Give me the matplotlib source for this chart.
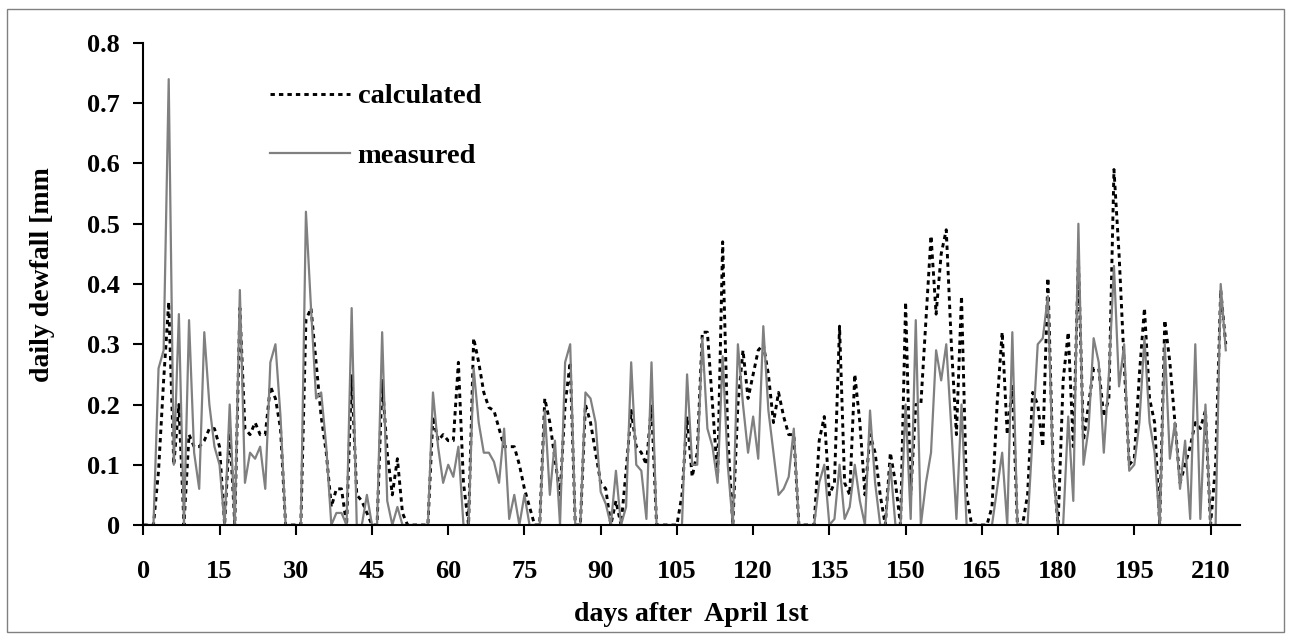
import numpy as np
import matplotlib
matplotlib.use('Agg')
from matplotlib import pyplot as plt
from matplotlib.patches import Rectangle

matplotlib.rcParams['font.family'] = 'Liberation Serif'
matplotlib.rcParams['font.weight'] = 'bold'

#%% Data
days = np.arange(0, 214)

calculated = [
    0, 0, 0, 0.09, 0.24, 0.37, 0.10, 0.20, 0, 0.15,
    0.13, 0.13, 0.14, 0.16, 0.16, 0.13, 0, 0.16, 0, 0.36,
    0.16, 0.15, 0.17, 0.15, 0.15, 0.23, 0.21, 0.16, 0, 0,
    0, 0, 0.34, 0.36, 0.27, 0.18, 0.12, 0.03, 0.06, 0.06,
    0, 0.25, 0.05, 0.04, 0.02, 0, 0, 0.24, 0.12, 0.05,
    0.11, 0.02, 0, 0, 0, 0, 0, 0.18, 0.14, 0.15,
    0.14, 0.14, 0.27, 0.07, 0, 0.31, 0.27, 0.22, 0.195, 0.19,
    0.16, 0.13, 0.13, 0.13, 0.10, 0.06, 0.03, 0, 0, 0.21,
    0.17, 0.11, 0.05, 0.20, 0.27, 0, 0, 0.20, 0.17, 0.12,
    0.07, 0.06, 0, 0.04, 0, 0.09, 0.19, 0.13, 0.12, 0.10,
    0.20, 0, 0, 0, 0, 0, 0.05, 0.18, 0.08, 0.12,
    0.32, 0.32, 0.20, 0.08, 0.47, 0.15, 0, 0.20, 0.29, 0.21,
    0.25, 0.29, 0.30, 0.25, 0.17, 0.22, 0.18, 0.15, 0.15, 0,
    0, 0, 0, 0.14, 0.18, 0.05, 0.07, 0.33, 0.07, 0.05,
    0.25, 0.17, 0.05, 0.15, 0.12, 0.05, 0, 0.12, 0.07, 0,
    0.37, 0.05, 0.20, 0.20, 0.34, 0.48, 0.35, 0.45, 0.49, 0.30,
    0.15, 0.38, 0.05, 0, 0, 0, 0, 0.03, 0.20, 0.32,
    0.15, 0.23, 0, 0, 0.05, 0.22, 0.20, 0.13, 0.41, 0.10,
    0, 0.24, 0.32, 0.13, 0.44, 0.14, 0.20, 0.26, 0.26, 0.18,
    0.21, 0.59, 0.45, 0.27, 0.10, 0.11, 0.25, 0.36, 0.21, 0.17,
    0, 0.34, 0.27, 0.17, 0.07, 0.10, 0.13, 0.17, 0.16, 0.19,
    0, 0.10, 0.39, 0.30]

measured = [
    0, 0, 0, 0.26, 0.29, 0.74, 0.10, 0.35, 0, 0.34,
    0.12, 0.06, 0.32, 0.20, 0.13, 0.10, 0, 0.20, 0, 0.39,
    0.07, 0.12, 0.11, 0.13, 0.06, 0.27, 0.30, 0.18, 0, 0,
    0, 0, 0.52, 0.36, 0.21, 0.22, 0.13, 0, 0.02, 0.02,
    0, 0.36, 0, 0, 0.05, 0, 0, 0.32, 0.04, 0,
    0.03, 0, 0, 0, 0, 0, 0, 0.22, 0.13, 0.07,
    0.10, 0.08, 0.13, 0, 0, 0.26, 0.17, 0.12, 0.12, 0.105,
    0.07, 0.16, 0.01, 0.05, 0, 0.05, 0, 0, 0, 0.19,
    0.05, 0.14, 0, 0.27, 0.30, 0, 0, 0.22, 0.21, 0.17,
    0.055, 0.035, 0, 0.09, 0, 0.03, 0.27, 0.10, 0.09, 0.01,
    0.27, 0, 0, 0, 0, 0, 0, 0.25, 0.10, 0.10,
    0.31, 0.16, 0.13, 0.07, 0.28, 0.10, 0, 0.30, 0.20, 0.12,
    0.18, 0.11, 0.33, 0.19, 0.12, 0.05, 0.06, 0.08, 0.16, 0,
    0, 0, 0, 0.07, 0.10, 0, 0.01, 0.10, 0.01, 0.03,
    0.10, 0.04, 0, 0.19, 0.07, 0, 0, 0.10, 0, 0,
    0.20, 0.01, 0.34, 0, 0.07, 0.12, 0.29, 0.24, 0.30, 0.16,
    0.01, 0.20, 0, 0, 0, 0, 0, 0, 0.06, 0.12,
    0, 0.32, 0, 0, 0, 0.15, 0.30, 0.31, 0.38, 0.09,
    0, 0, 0.18, 0.04, 0.50, 0.10, 0.16, 0.31, 0.27, 0.12,
    0.25, 0.43, 0.23, 0.30, 0.09, 0.10, 0.17, 0.31, 0.17, 0.12,
    0, 0.30, 0.11, 0.17, 0.06, 0.14, 0.01, 0.30, 0.01, 0.20,
    0, 0, 0.40, 0.29]

xticks = np.arange(0, 211, 15)
yticks = np.arange(0, 0.81, 0.1)
ytick_labels = ['0'] + ['%.1f' % v for v in yticks[1:]]

#%% Plot
W, H = 1291, 639
fig = plt.figure(figsize=(W/100, H/100), dpi=100)
ax = fig.add_axes([143.3/W, 1-525/H, (1240-143.3)/W, (525-43)/H])

ax.plot(days, calculated, color='k', lw=2.1, ls=(0, (1.5, 1.4)), label='calculated')
ax.plot(days, measured, color='#808080', lw=1.6, label='measured')

ax.set_xlim(0, 215.8)
ax.set_ylim(0, 0.8)
ax.set_xticks(xticks)
ax.set_yticks(yticks)
ax.set_yticklabels(ytick_labels)
for s in ['top', 'right']:
    ax.spines[s].set_visible(False)
for s in ['left', 'bottom']:
    ax.spines[s].set_linewidth(1.5)
ax.tick_params(axis='both', direction='out', length=7, width=1.5, labelsize=19)
ax.tick_params(axis='x', pad=18)
ax.tick_params(axis='y', pad=10)
for lab in ax.get_xticklabels() + ax.get_yticklabels():
    lab.set_fontweight('bold')

ax.set_xlabel('days after  April 1st', fontsize=20, fontweight='bold', labelpad=14)
ax.set_ylabel('daily dewfall [mm', fontsize=20, fontweight='bold')
ax.yaxis.set_label_coords(-0.0805, 0.519)

leg = ax.legend(loc='upper left', bbox_to_anchor=(0.092, 0.969), frameon=False,
                fontsize=20.5, handlelength=2.8, handletextpad=0.28, labelspacing=1.17)
for t in leg.get_texts():
    t.set_fontweight('bold')

# chart area border
fig.patches.append(Rectangle((7/W, 7/H), 1-14/W, 1-16/H, transform=fig.transFigure,
                             fill=False, edgecolor='#808080', lw=1))

fig.savefig('out.png', dpi=100)
